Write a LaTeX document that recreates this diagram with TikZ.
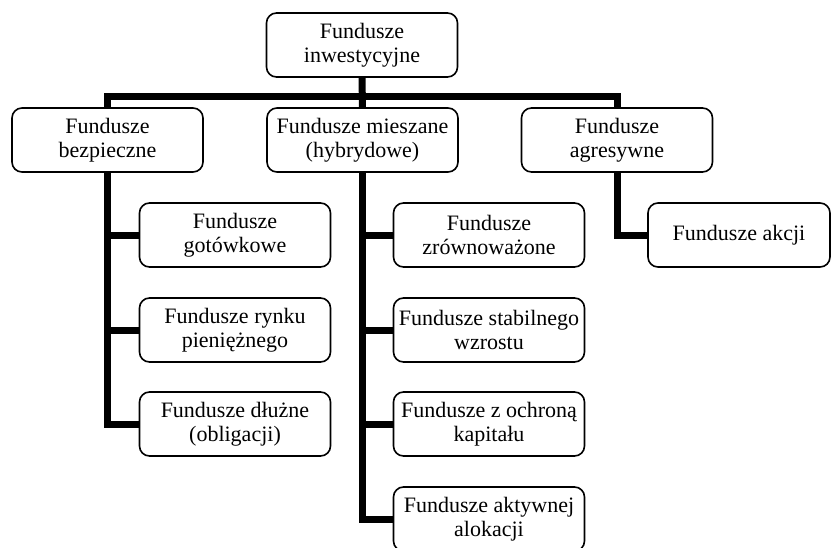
\documentclass[tikz,border=0pt]{standalone}
\usepackage{fontspec}
\setmainfont{Liberation Serif}
\begin{document}
\begin{tikzpicture}[x=1pt, y=-1pt,
    box/.style={draw, line width=1.6pt, rounded corners=10pt, fill=white,
      minimum width=191pt, minimum height=64pt, align=center, inner sep=1pt,
      font=\fontsize{22}{24.5}\selectfont},
    conn/.style={line width=7pt}]
  \useasboundingbox (0,0) rectangle (831,547);
  % top level
  \node[box] (fi) at (362,45) {Fundusze\\inwestycyjne};
  \node[box] (bezp) at (107.5,140) {Fundusze\\bezpieczne};
  \node[box] (mies) at (362.5,140) {Fundusze mieszane\\(hybrydowe)};
  \node[box] (agr) at (617,140) {Fundusze\\agresywne};
  % children
  \node[box] (got) at (235,235) {Fundusze\\gotówkowe};
  \node[box] (ryn) at (235,330) {Fundusze rynku\\pieniężnego};
  \node[box] (dlu) at (235,424) {Fundusze dłużne\\(obligacji)};
  \node[box] (zrow) at (489,235) {Fundusze\\zrównoważone};
  \node[box] (stab) at (489,330) {Fundusze stabilnego\\wzrostu};
  \node[box] (ochr) at (489,424) {Fundusze z ochroną\\kapitału};
  \node[box] (akt) at (489,519) {Fundusze aktywnej\\alokacji};
  \node[box, minimum width=182pt] (akc) at (739,235) {Fundusze akcji};
  % connectors
  \coordinate (bus) at (362,96);
  \draw[conn] (fi.south) -- (mies.north);
  \draw[conn] (bezp.north) |- (bus) -| (agr.north);
  \foreach \c in {got,ryn,dlu}
    \draw[conn] (bezp.south) |- (\c.west);
  \foreach \c in {zrow,stab,ochr,akt}
    \draw[conn] (mies.south) |- (\c.west);
  \draw[conn] (agr.south) |- (akc.west);
\end{tikzpicture}
\end{document}
